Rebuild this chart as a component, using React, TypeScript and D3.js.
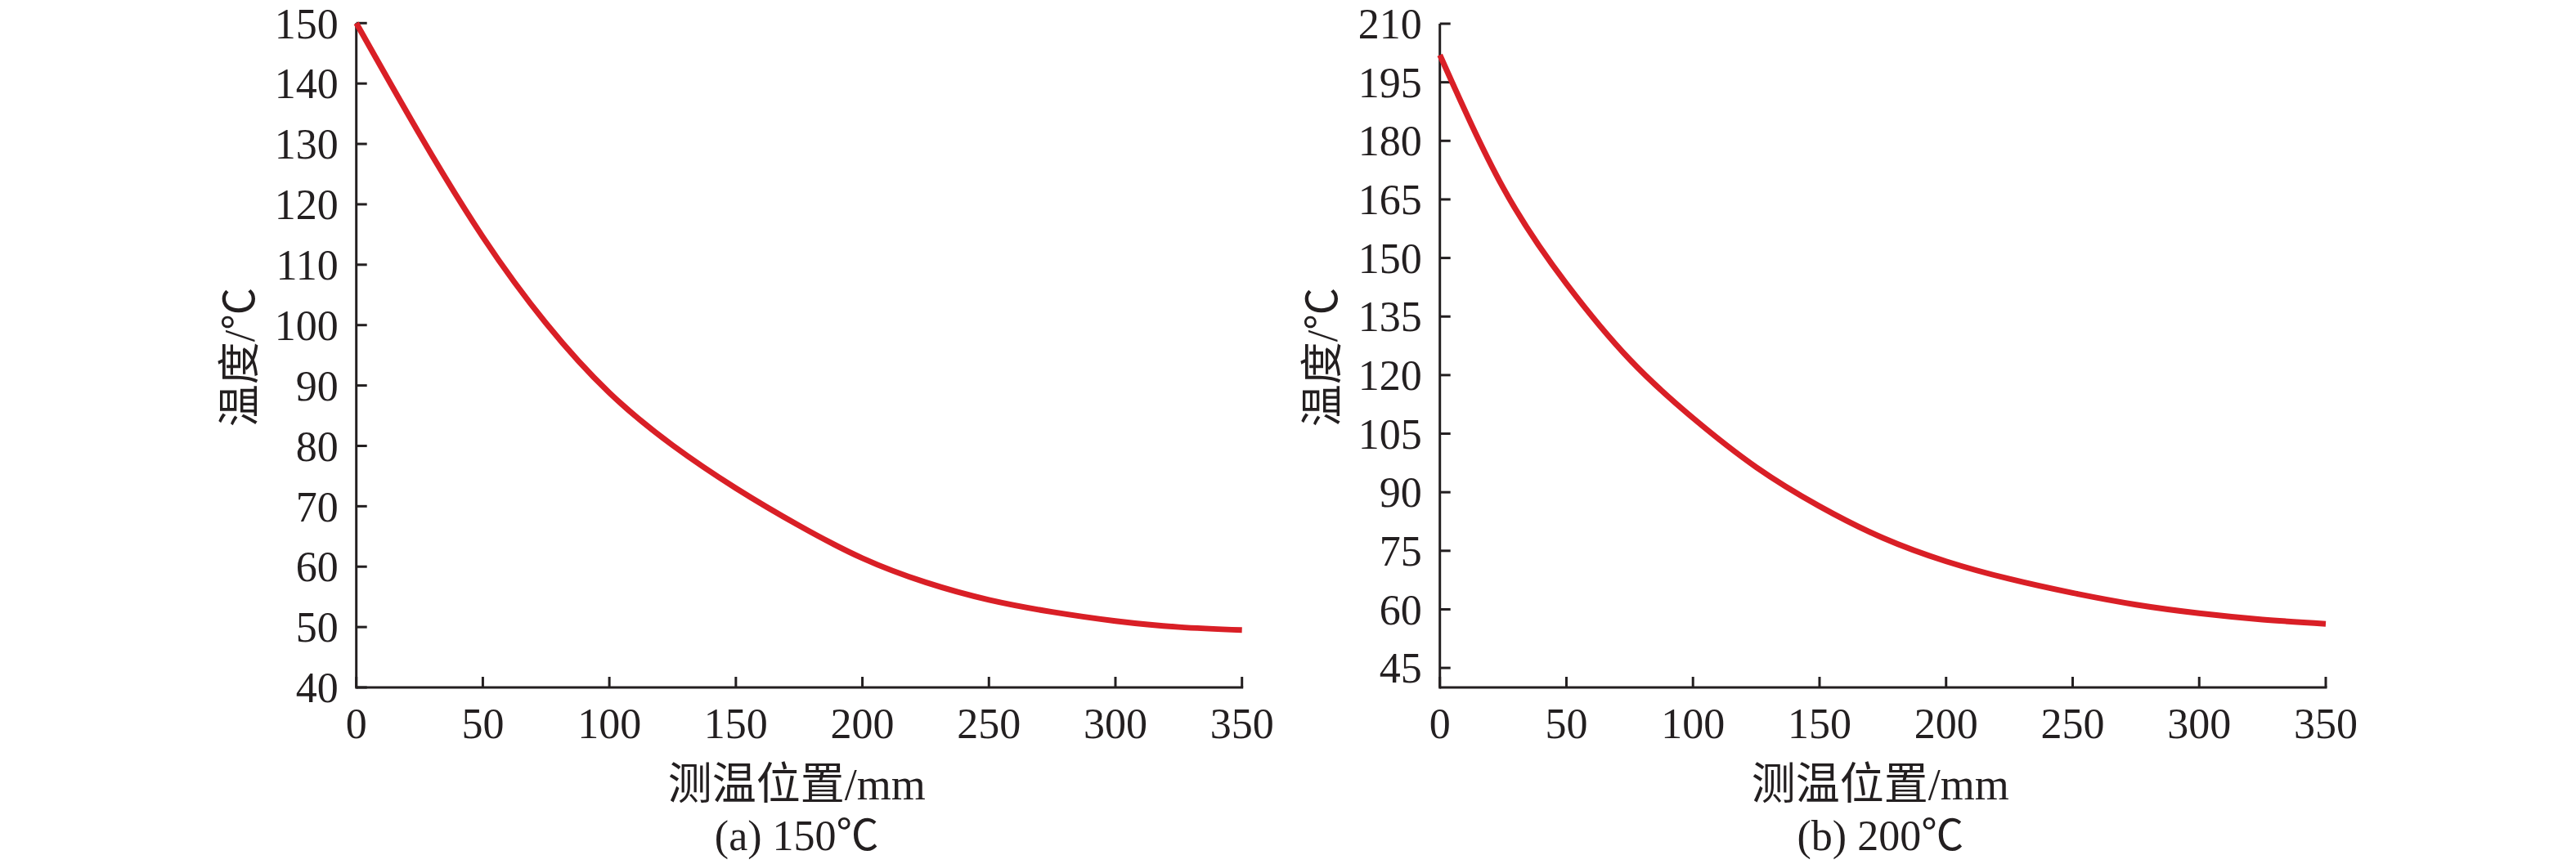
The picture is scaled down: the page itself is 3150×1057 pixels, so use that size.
import React from "react";
import * as d3 from "d3";

const positions = [0, 25, 50, 75, 100, 125, 150, 175, 200, 225, 250, 275, 300, 325, 350];
const tempA = [150, 131.6, 114.6, 100.3, 88.8, 80.1, 73, 66.8, 61.4, 57.4, 54.5, 52.5, 51, 50, 49.5];
const tempB = [202, 168, 143.4, 124, 109, 96.4, 86.4, 78.3, 72.3, 67.8, 64.2, 61.2, 59, 57.4, 56.3];

const xTicks = [0, 50, 100, 150, 200, 250, 300, 350];
const yTicksA = [40, 50, 60, 70, 80, 90, 100, 110, 120, 130, 140, 150];
const yTicksB = [45, 60, 75, 90, 105, 120, 135, 150, 165, 180, 195, 210];

const FONT = "'Liberation Serif', 'Times New Roman', 'Noto Sans CJK SC', serif";
const AXIS = "#231f20";
const LINE = "#d91f26";

type PanelProps = {
  x0: number;
  x1: number;
  yTop: number;
  yBottom: number;
  yDomain: [number, number];
  yTicks: number[];
  values: number[];
  yLabelX: number;
  caption: string;
};

function Panel({ x0, x1, yTop, yBottom, yDomain, yTicks, values, yLabelX, caption }: PanelProps) {
  const x = d3.scaleLinear().domain([0, 350]).range([x0, x1]);
  const y = d3.scaleLinear().domain(yDomain).range([yBottom, yTop]);
  const line = d3
    .line<number>()
    .x((_, i) => x(positions[i]))
    .y((v) => y(v))
    .curve(d3.curveNatural);
  const tick = 13;
  const sw = 3;
  const yTopAxis = y(yTicks[yTicks.length - 1]);
  const cx = (x0 + x1) / 2 - 3;
  return (
    <g>
      <line x1={x0} y1={yBottom} x2={x1 + sw / 2} y2={yBottom} stroke={AXIS} strokeWidth={sw} />
      <line x1={x0} y1={yBottom + sw / 2} x2={x0} y2={yTopAxis} stroke={AXIS} strokeWidth={sw} />
      {xTicks.map((t) => (
        <g key={"x" + t}>
          <line x1={x(t)} x2={x(t)} y1={yBottom} y2={yBottom - tick} stroke={AXIS} strokeWidth={sw} />
          <text x={x(t)} y={903} textAnchor="middle" fontFamily={FONT} fontSize={52} fill={AXIS}>
            {t}
          </text>
        </g>
      ))}
      {yTicks.map((t) => (
        <g key={"y" + t}>
          <line x1={x0} x2={x0 + tick} y1={y(t)} y2={y(t)} stroke={AXIS} strokeWidth={sw} />
          <text
            x={x0 - 22}
            y={y(t)}
            dy="0.35em"
            textAnchor="end"
            fontFamily={FONT}
            fontSize={52}
            fill={AXIS}
          >
            {t}
          </text>
        </g>
      ))}
      <path d={line(values) || ""} fill="none" stroke={LINE} strokeWidth={7} strokeLinecap="butt" />
      <text
        transform={`translate(${yLabelX},437) rotate(-90)`}
        textAnchor="middle"
        dy="0.35em"
        fontFamily={FONT}
        fontSize={52}
        fill={AXIS}
      >
        温度/℃
      </text>
      <text x={cx} y={978} textAnchor="middle" fontFamily={FONT} fontSize={54} fill={AXIS}>
        测温位置/mm
      </text>
      <text x={cx} y={1040} textAnchor="middle" fontFamily={FONT} fontSize={52} fill={AXIS}>
        {caption}
      </text>
    </g>
  );
}

export default function App() {
  return (
    <svg
      width={3150}
      height={1057}
      viewBox="0 0 3150 1057"
      style={{ position: "absolute", left: 0, top: 0, background: "#fff" }}
    >
      <rect x={0} y={0} width={3150} height={1057} fill="#fff" />
      <Panel
        x0={435.7}
        x1={1518.7}
        yTop={28.3}
        yBottom={841}
        yDomain={[40, 150]}
        yTicks={yTicksA}
        values={tempA}
        yLabelX={293}
        caption="(a) 150℃"
      />
      <Panel
        x0={1760.7}
        x1={2844}
        yTop={29}
        yBottom={841}
        yDomain={[40, 210]}
        yTicks={yTicksB}
        values={tempB}
        yLabelX={1617}
        caption="(b) 200℃"
      />
    </svg>
  );
}
